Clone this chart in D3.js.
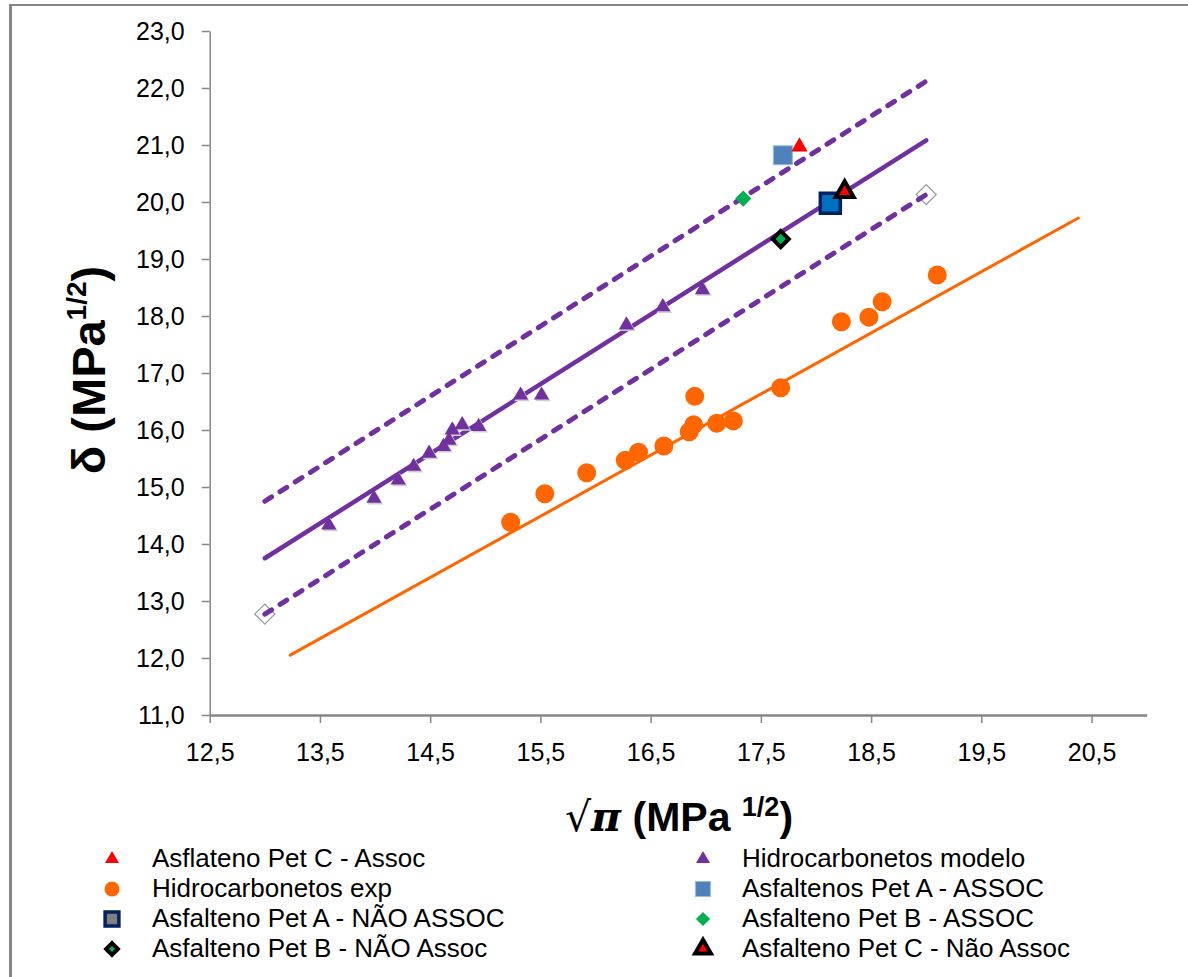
<!DOCTYPE html>
<html>
<head>
<meta charset="utf-8">
<script src="https://cdn.jsdelivr.net/npm/d3@7"></script>
<style>
  body { margin:0; background:#fff; }
  text { font-family:"Liberation Sans", Arial, sans-serif; }
</style>
</head>
<body>
<div id="chart"><svg></svg></div>
<script>
// ---- data ----
var xTicks = [12.5, 13.5, 14.5, 15.5, 16.5, 17.5, 18.5, 19.5, 20.5]
var yTicks = [11, 12, 13, 14, 15, 16, 17, 18, 19, 20, 21, 22, 23]

// Hidrocarbonetos modelo (triangles)
var modelX = [13.58, 13.99, 14.21, 14.35, 14.49, 14.62, 14.67, 14.70, 14.79, 14.94, 15.32, 15.51, 16.28, 16.61, 16.97]
var modelY = [14.33, 14.80, 15.12, 15.36, 15.59, 15.71, 15.82, 16.00, 16.09, 16.06, 16.61, 16.61, 17.84, 18.16, 18.46]

// Hidrocarbonetos exp (circles)
var expX = [15.23, 15.54, 15.92, 16.27, 16.39, 16.62, 16.85, 16.89, 16.90, 17.10, 17.25, 17.68, 18.23, 18.48, 18.60, 19.10]
var expY = [14.38, 14.88, 15.25, 15.47, 15.61, 15.72, 15.97, 16.09, 16.59, 16.12, 16.16, 16.74, 17.90, 17.98, 18.25, 18.72]

// trend lines
var modelFitX = [13.0, 19.0], modelFitY = [13.75, 21.08]
var upperX = [13.0, 19.0], upperY = [14.75, 22.12]
var lowerX = [13.0, 19.0], lowerY = [12.77, 20.13]
var expFitX = [13.23, 20.38], expFitY = [12.05, 19.72]

// asphaltene points
var petCAssoc = [17.85, 20.97]
var petAAssoc = [17.70, 20.82]
var petBAssoc = [17.34, 20.06]
var petANao = [18.13, 19.98]
var petBNao = [17.68, 19.35]
var petCNao = [18.26, 20.18]

var legendLeft = ["Asflateno Pet C - Assoc", "Hidrocarbonetos exp", "Asfalteno Pet A - NÃO ASSOC", "Asfalteno Pet B - NÃO Assoc"]
var legendRight = ["Hidrocarbonetos modelo", "Asfaltenos Pet A - ASSOC", "Asfalteno Pet B - ASSOC", "Asfalteno Pet C - Não Assoc"]

// ---- setup ----
var W = 1188, H = 977
var svg = d3.select("#chart svg").attr("width", W).attr("height", H)

var x = d3.scaleLinear().domain([12.5, 21]).range([209.7, 1146.7])
var y = d3.scaleLinear().domain([11, 23]).range([715, 31])
var purple = "#7030a0", orange = "#ff6600"

// outer frame (cropped chart border)
svg.append("line").attr("x1", 10.5).attr("x2", 10.5).attr("y1", 4).attr("y2", H)
  .attr("stroke", "#868686").attr("stroke-width", 3)
svg.append("line").attr("x1", 9).attr("x2", W).attr("y1", 5).attr("y2", 5)
  .attr("stroke", "#868686").attr("stroke-width", 2)

var comma = d => d3.format(".1f")(d).replace(".", ",")

// axes
var gx = svg.append("g").attr("transform", "translate(0,715)")
  .call(d3.axisBottom(x).tickValues(xTicks).tickFormat(comma).tickSize(8).tickSizeOuter(0).tickPadding(20))
var gy = svg.append("g").attr("transform", "translate(209.7,0)")
  .call(d3.axisLeft(y).tickValues(yTicks).tickFormat(comma).tickSize(8).tickSizeOuter(0).tickPadding(17))
gx.select(".domain").attr("stroke", "#868686").attr("stroke-width", 2.5)
gy.select(".domain").attr("stroke", "#868686").attr("stroke-width", 1.5)
svg.selectAll(".tick line").attr("stroke", "#868686").attr("stroke-width", 1.5)
svg.selectAll(".tick text").attr("fill", "#000").style("font-size", "25px")
  .style("font-family", "'Liberation Sans', Arial, sans-serif")

// axis titles
var yt = svg.append("text").attr("transform", "translate(105,370) rotate(-90)")
  .attr("text-anchor", "middle").style("font-weight", "bold").style("font-size", "47px")
yt.append("tspan").text("δ (MPa")
yt.append("tspan").text("1/2").style("font-size", "28px").attr("dy", -19)
yt.append("tspan").text(")").attr("dy", 19)

var xt = svg.append("text").attr("x", 679).attr("y", 831)
  .attr("text-anchor", "middle").style("font-weight", "bold").style("font-size", "41px")
xt.append("tspan").text("√").style("font-family", "'DejaVu Serif', serif").style("font-weight", "normal")
xt.append("tspan").text("π").style("font-family", "'DejaVu Serif', serif").style("font-style", "italic")
xt.append("tspan").text(" (MPa ")
xt.append("tspan").text("1/2").style("font-size", "27px").attr("dy", -15)
xt.append("tspan").text(")").attr("dy", 15)

// lines
function trend(xs, ys, color, width, dash) {
  var pts = xs.map((v, i) => [x(v), y(ys[i])])
  svg.append("path").attr("d", d3.line()(pts))
    .attr("fill", "none").attr("stroke", color).attr("stroke-width", width)
    .attr("stroke-linecap", "round")
    .attr("stroke-dasharray", dash || null)
}

// hollow diamonds on lower dashed line ends
var sq = d3.symbol().type(d3.symbolSquare)
svg.selectAll(".hollow").data(lowerX.map((v, i) => [v, lowerY[i]])).join("path")
  .attr("d", sq.size(200)())
  .attr("transform", d => `translate(${x(d[0])},${y(d[1])}) rotate(45)`)
  .attr("fill", "#fff").attr("stroke", "#9a9a9a").attr("stroke-width", 1.2)

trend(upperX, upperY, purple, 5, "8 10")
trend(lowerX, lowerY, purple, 5, "8 10")
trend(modelFitX, modelFitY, purple, 4.5)
trend(expFitX, expFitY, orange, 3)

// marker helper
function marker(g, type, size, fill, stroke, sw, rot) {
  return g.append("path").attr("d", d3.symbol().type(type).size(size)())
    .attr("fill", fill).attr("stroke", stroke || "none").attr("stroke-width", sw || 0)
    .attr("transform", rot ? "rotate(45)" : null)
}

// model triangles with a faint shadow
var modelPts = modelX.map((v, i) => [v, modelY[i]])
svg.selectAll(".tshadow").data(modelPts).join("path")
  .attr("d", d3.symbol().type(d3.symbolTriangle).size(105)())
  .attr("transform", d => `translate(${x(d[0]) + 1.5},${y(d[1]) + 1.5})`)
  .attr("fill", "#cfcfcf")
svg.selectAll(".tri").data(modelPts).join("path")
  .attr("d", d3.symbol().type(d3.symbolTriangle).size(100)())
  .attr("transform", d => `translate(${x(d[0])},${y(d[1])})`)
  .attr("fill", purple)

// exp circles
svg.selectAll(".circ").data(expX.map((v, i) => [v, expY[i]])).join("circle")
  .attr("cx", d => x(d[0])).attr("cy", d => y(d[1])).attr("r", 9.5)
  .attr("fill", orange)

// asphaltene markers
function at(p) { return svg.append("g").attr("transform", `translate(${x(p[0])},${y(p[1])})`) }
marker(at(petAAssoc), d3.symbolSquare, 361, "#4f81bd", "#93c3cc", 1.2)
marker(at(petCAssoc), d3.symbolTriangle, 115, "#ff0000")
marker(at(petBAssoc), d3.symbolSquare, 130, "#00b050", null, 0, true)
marker(at(petANao), d3.symbolSquare, 400, "#0070c0", "#002060", 3.5)
marker(at(petBNao), d3.symbolSquare, 130, "#00b050", "#000", 4, true)
marker(at(petCNao), d3.symbolTriangle, 140, "#ff0000", "#000", 4)

// ---- legend ----
var rowsY = [858, 888, 918, 948]
var legendL = svg.append("g")
var legendR = svg.append("g")

legendL.selectAll("text").data(legendLeft).join("text")
  .attr("x", 152).attr("y", (d, i) => rowsY[i]).attr("dy", "0.35em")
  .style("font-size", "26px").text(d => d)
legendR.selectAll("text").data(legendRight).join("text")
  .attr("x", 742).attr("y", (d, i) => rowsY[i]).attr("dy", "0.35em")
  .style("font-size", "26px").text(d => d)

function lg(px, row) { return svg.append("g").attr("transform", `translate(${px},${rowsY[row] + 1})`) }
marker(lg(112, 0), d3.symbolTriangle, 85, "#ff0000")
lg(112, 1).append("circle").attr("r", 7.5).attr("fill", orange)
marker(lg(112, 2), d3.symbolSquare, 190, "#7f7f7f", "#002060", 3.5)
marker(lg(112, 3), d3.symbolSquare, 70, "#00b050", "#000", 4, true)

marker(lg(703, 0), d3.symbolTriangle, 85, purple)
marker(lg(703, 1), d3.symbolSquare, 225, "#4f81bd", "#93c3cc", 1.2)
marker(lg(703, 2), d3.symbolSquare, 100, "#00b050", null, 0, true)
marker(lg(703, 3), d3.symbolTriangle, 110, "#ff0000", "#000", 4)
</script>
</body>
</html>
